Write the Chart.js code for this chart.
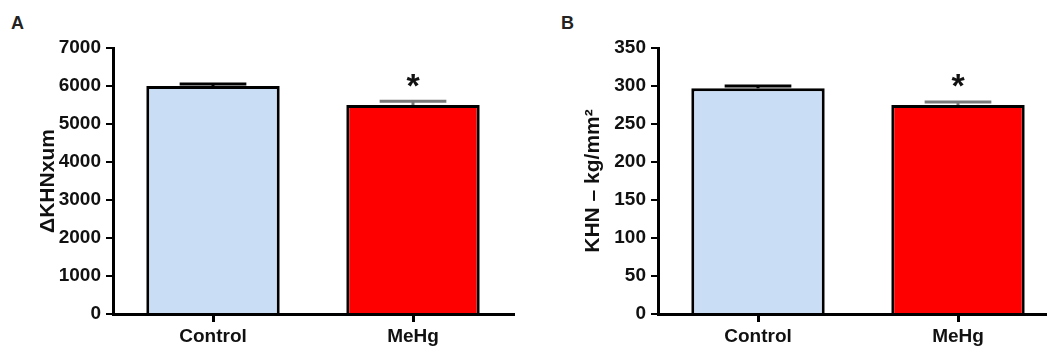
<!DOCTYPE html>
<html>
<head>
<meta charset="utf-8">
<script src="https://cdn.jsdelivr.net/npm/chart.js@4"></script>
<style>
  html, body { margin: 0; padding: 0; background: #fff; overflow: hidden; }
  body { width: 1047px; height: 350px; position: relative; font-family: "Liberation Sans", Arial, sans-serif; }
  .panel { position: absolute; top: 0; width: 530px; height: 350px; }
  .letter { position: absolute; top: 13px; font-weight: bold; font-size: 18px; color: #222; }
</style>
</head>
<body>
<div class="letter" style="left:11px">A</div>
<div class="letter" style="left:561px">B</div>
<div class="panel" style="left:0"><canvas id="chart-a" width="530" height="350"></canvas></div>
<div class="panel" style="left:540px"><canvas id="chart-b" width="530" height="350"></canvas></div>
<script>
// data
const categories = ['Control', 'MeHg'];
const significance = ['', '*'];

const depthMeans = [6000, 5500];
const depthErrors = [50, 100];
const depthTicks = [0, 1000, 2000, 3000, 4000, 5000, 6000, 7000];

const hardnessMeans = [297, 275];
const hardnessErrors = [3, 4];
const hardnessTicks = [0, 50, 100, 150, 200, 250, 300, 350];

const barColors = ['#c9ddf5', '#ff0000'];
const errorColors = ['#000000', '#7a7a7a'];
const FONT = '"Liberation Sans", Arial, sans-serif';

// error bars and stars, placed with the chart's own scales
const errorBarPlugin = {
    id: 'errorBars',
    afterDatasetsDraw(chart, args, opts) {
        const ctx = chart.ctx;
        const yScale = chart.scales.y;
        const meta = chart.getDatasetMeta(0);
        const means = chart.data.datasets[0].data;
        meta.data.forEach((bar, i) => {
            const half = bar.width / 4;
            const yTop = yScale.getPixelForValue(means[i] + opts.errors[i]);
            const yBase = yScale.getPixelForValue(means[i]);
            ctx.save();
            ctx.strokeStyle = errorColors[i];
            ctx.lineWidth = 3;
            ctx.beginPath();
            ctx.moveTo(bar.x, yBase);
            ctx.lineTo(bar.x, yTop);
            ctx.moveTo(bar.x - half, yTop);
            ctx.lineTo(bar.x + half, yTop);
            ctx.stroke();
            if (significance[i]) {
                ctx.fillStyle = '#111';
                ctx.font = 'bold 34px ' + FONT;
                ctx.textAlign = 'center';
                ctx.textBaseline = 'middle';
                ctx.fillText(significance[i], bar.x, yTop - 14);
            }
            ctx.restore();
        });
    }
};

function makeChart(id, means, errors, ticks, title, axisWidth, titlePad) {
    const ctx = document.getElementById(id).getContext('2d');
    return new Chart(ctx, {
        type: 'bar',
        data: {
            labels: categories,
            datasets: [{
                data: means,
                backgroundColor: barColors,
                borderColor: '#000',
                borderWidth: 3,
                barPercentage: 1,
                categoryPercentage: 0.667
            }]
        },
        options: {
            responsive: false,
            animation: false,
            layout: { padding: { top: 48, right: 530 - axisWidth - 400, bottom: 0, left: 0 } },
            plugins: {
                legend: { display: false },
                tooltip: { enabled: false },
                errorBars: { errors: errors }
            },
            scales: {
                x: {
                    grid: { drawOnChartArea: false, offset: false, color: '#000', lineWidth: 3, tickLength: 8 },
                    border: { color: '#000', width: 3 },
                    ticks: { color: '#111', padding: 3, font: { family: FONT, size: 19, weight: 'bold' } },
                    afterFit: axis => { axis.height = 36; }
                },
                y: {
                    min: ticks[0],
                    max: ticks[ticks.length - 1],
                    afterBuildTicks: axis => { axis.ticks = ticks.map(v => ({ value: v })); },
                    grid: { drawOnChartArea: false, color: '#000', lineWidth: 2, tickLength: 7 },
                    border: { color: '#000', width: 3 },
                    ticks: {
                        color: '#111',
                        padding: 5,
                        font: { family: FONT, size: 19, weight: 'bold' },
                        callback: v => String(v)
                    },
                    title: {
                        display: true,
                        text: title,
                        color: '#111',
                        padding: { top: titlePad, bottom: 0 },
                        font: { family: FONT, size: 21, weight: 'bold' }
                    },
                    afterFit: axis => { axis.width = axisWidth; }
                }
            }
        },
        plugins: [errorBarPlugin]
    });
}

document.addEventListener('DOMContentLoaded', () => {
    window.chartA = makeChart('chart-a', depthMeans, depthErrors, depthTicks, '\u0394KHNxum', 113, 36);
    window.chartB = makeChart('chart-b', hardnessMeans, hardnessErrors, hardnessTicks, 'KHN \u2013 kg/mm\u00b2', 118, 41);
});
</script>
</body>
</html>
